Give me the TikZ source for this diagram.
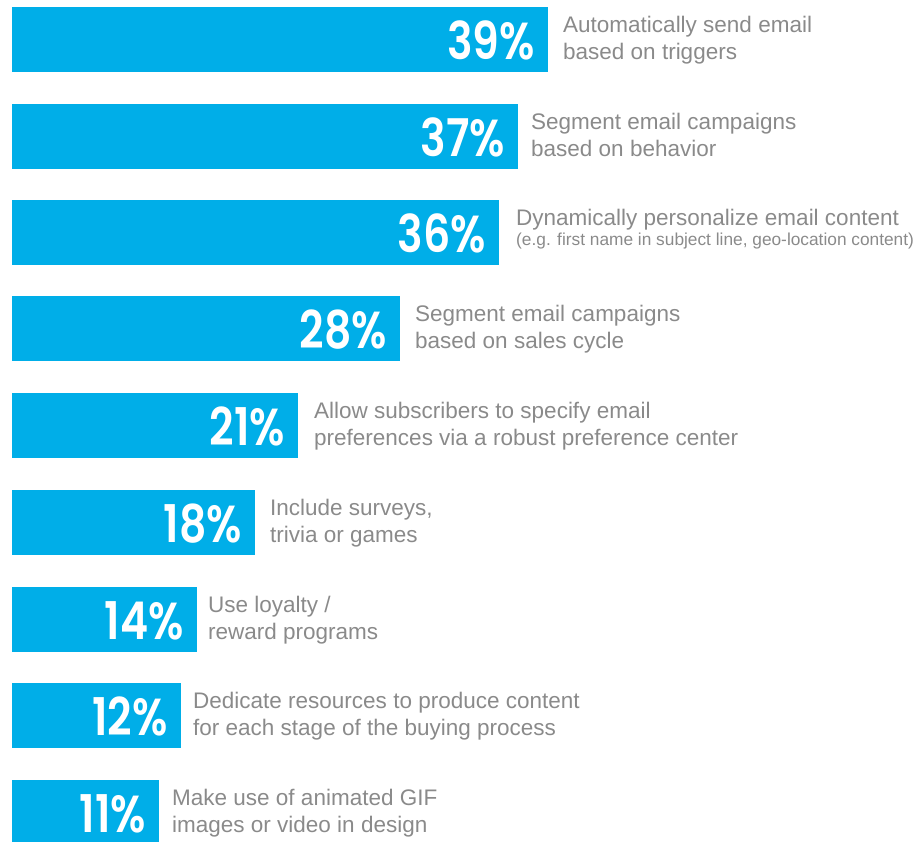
\documentclass[tikz,border=0pt]{standalone}
\usepackage{fontspec}
\setmainfont{Liberation Sans}
\newfontfamily\pctfont{Poppins}[FakeStretch=0.82,BoldFont={Poppins SemiBold}]
\definecolor{barblue}{HTML}{00AEE8}
\definecolor{labelgray}{HTML}{8A8A8A}
\begin{document}
\begin{tikzpicture}[x=1pt,y=-1pt,
  bar/.style={fill=barblue,draw=none},
  pct/.style={anchor=base east,inner sep=0pt,text=white,font=\pctfont\bfseries\fontsize{52}{52}\selectfont},
  lbl/.style={anchor=base west,inner sep=0pt,text=labelgray,font=\fontsize{22.5}{27}\selectfont},
  lblsmall/.style={anchor=base west,inner sep=0pt,text=labelgray,font=\fontsize{17.3}{18}\selectfont}]
\useasboundingbox (0,0) rectangle (923,841);
\foreach \i/\top/\r/\p/\lx/\la/\lb in {
  1/7/548/39/563/{Automatically send email}/{based on triggers},
  2/104/518/37/531/{Segment email campaigns}/{based on behavior},
  4/296/400/28/415/{Segment email campaigns}/{based on sales cycle},
  5/393/298/21/314/{Allow subscribers to specify email}/{preferences via a robust preference center},
  6/490/255/18/270/{Include surveys,}/{trivia or games},
  7/587/197/14/208/{Use loyalty /}/{reward programs},
  8/683/181/12/193/{Dedicate resources to produce content}/{for each stage of the buying process},
  9/780/159/11/172/{Make use of animated GIF}/{images or video in design}}{
  \fill[bar] (12,\top) rectangle (\r,\top+65) coordinate (b\i);
  \node[pct] (p\i) at (\r-13,\top+52) {\p\%};
  \node[lbl] (la\i) at (\lx,\top+25.5) {\la};
  \node[lbl] (lb\i) at (\lx,\top+52) {\lb};
}
\fill[bar] (12,200) rectangle (499,265) coordinate (b3);
\node[pct] (p3) at (486,252) {36\%};
\node[lbl] (la3) at (516,225) {Dynamically personalize email content};
\node[lblsmall] (lb3) at (516,245) {(e.g. first name in subject line, geo-location content)};
\end{tikzpicture}
\end{document}
